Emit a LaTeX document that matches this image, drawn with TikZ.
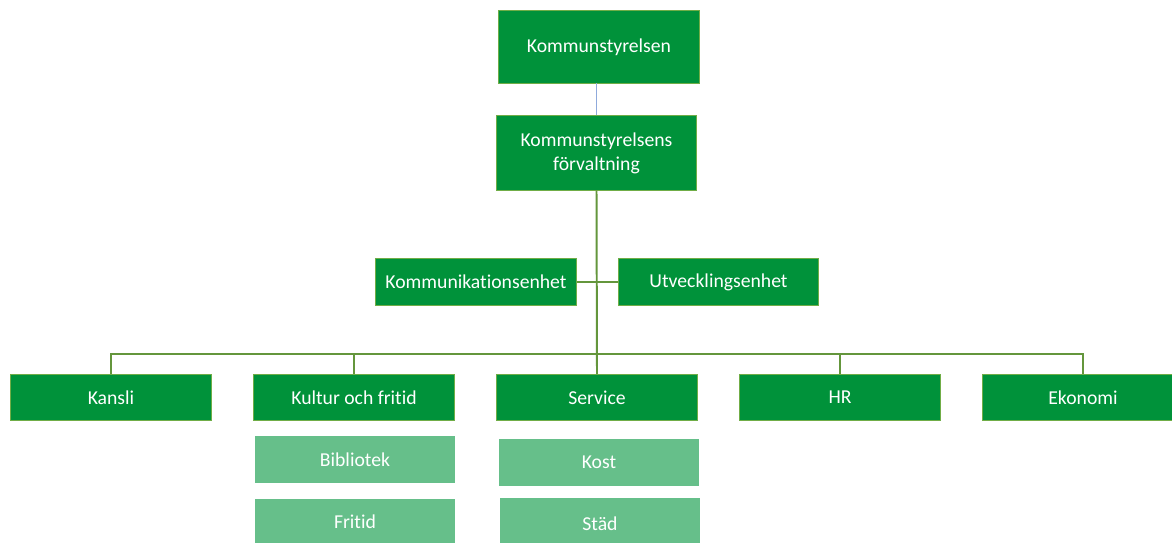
\documentclass[tikz,border=0pt]{standalone}
\usepackage{fontspec}
\setmainfont{Carlito}[Ligatures=NoCommon, RawFeature={-calt;-clig;-dlig}]
\usetikzlibrary{positioning}
\definecolor{ksgreen}{RGB}{0,146,58}
\definecolor{ksedge}{RGB}{112,173,71}
\definecolor{kslight}{RGB}{102,191,138}
\definecolor{ksline}{RGB}{100,150,60}
\definecolor{ksblue}{RGB}{143,170,220}

\begin{document}
\begin{tikzpicture}[
  x=0.025cm, y=-0.025cm,
  font=\fontsize{14}{17}\selectfont,
  unit/.style={draw=ksedge, line width=0.7pt, fill=ksgreen, text=white, align=center, minimum width=5cm, minimum height=1.15cm, inner sep=2pt},
  subunit/.style={fill=kslight, text=white, align=center, minimum width=5cm, minimum height=1.15cm, inner sep=2pt},
  line/.style={draw=ksline, line width=1.4pt}
]
\useasboundingbox (0,0) rectangle (1172,543);
\node[unit, minimum height=1.8cm] (ks) at (599,47) {Kommunstyrelsen};
\node[unit, minimum height=1.85cm] (ksf) at (596.5,153) {Kommunstyrelsens\\förvaltning};
\node[unit] (komm) at (476,282) {Kommunikationsenhet};
\node[unit] (utv) at (718.5,282) {Utvecklingsenhet};
\node[unit] (kansli) at (111,397.5) {Kansli};
\node[unit] (kultur) at (354,397.5) {Kultur och fritid};
\node[unit] (service) at (597,397.5) {Service};
\node[unit] (hr) at (840,397.5) {HR};
\node[unit] (ekonomi) at (1083,397.5) {Ekonomi};
\node[subunit] (bibliotek) at (355,459.5) {Bibliotek};
\node[subunit, below=0.4cm of bibliotek] (fritid) {Fritid};
\node[subunit] (kost) at (599,462.5) {Kost};
\node[subunit, minimum height=1.3cm] (stad) at (600,524) {Städ};
\coordinate (bus) at (597,354);
\draw[ksblue, line width=0.7pt] (ksf.north) -- (ksf.north |- ks.south);
\draw[line] (ksf.south) -- (service.north);
\draw[line] (komm.east) -- (utv.west);
\draw[line] (kansli.north) |- (bus) -| (ekonomi.north);
\draw[line] (kultur.north) -- (kultur.north |- bus);
\draw[line] (hr.north) -- (hr.north |- bus);
\end{tikzpicture}
\end{document}
